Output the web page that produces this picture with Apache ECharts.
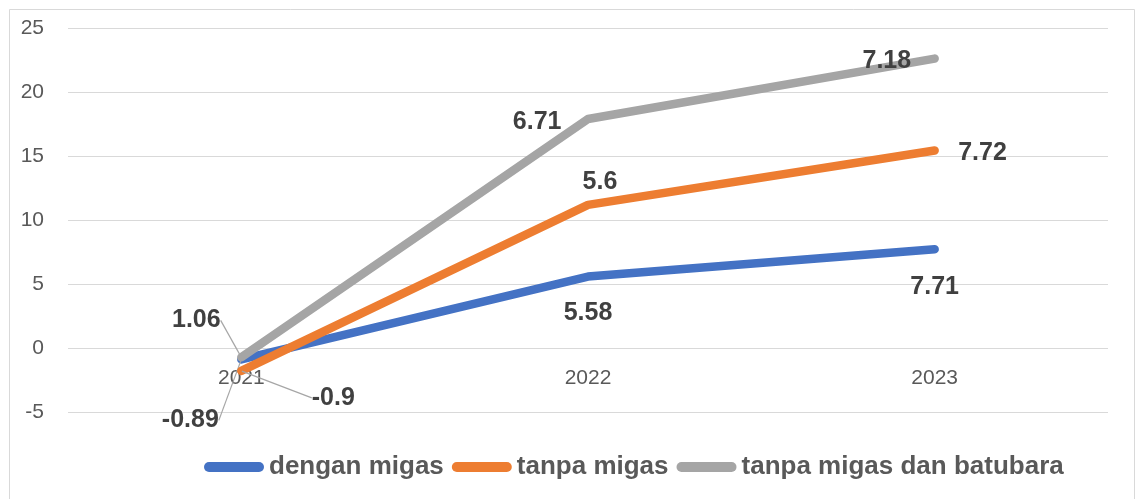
<!DOCTYPE html>
<html>
<head>
<meta charset="utf-8">
<script src="https://cdn.jsdelivr.net/npm/echarts@6/dist/echarts.min.js"></script>
<style>
html,body{margin:0;padding:0;background:#fff;}
#chart{width:1136px;height:499px;}
</style>
</head>
<body>
<div id="chart"></div>
<script>
// Data (stacked line chart, labels show each series' own value)
const years = ['2021', '2022', '2023'];
const denganMigas = [-0.89, 5.58, 7.71];
const tanpaMigas = [-0.9, 5.6, 7.72];
const tanpaMigasBatubara = [1.06, 6.71, 7.18];
const seriesNames = ['dengan migas', 'tanpa migas', 'tanpa migas dan batubara'];
const yTicks = { min: -5, max: 25, interval: 5 };

const colors = ['#4472C4', '#ED7D31', '#A5A5A5'];
const FONT = '"Liberation Sans", Arial, sans-serif';
const labelFont = { fontFamily: FONT, fontWeight: 'bold', fontSize: 25, color: '#404040' };

const GRID = { left: 68, right: 28, top: 28, bottom: 87 };
const plotH = 499 - GRID.top - GRID.bottom;
// place category axis at y = 0 (as in the reference)
const xAxisOffset = -plotH * (0 - yTicks.min) / (yTicks.max - yTicks.min);

// label placement style per series & point
const labelPos = [
  [{ position: 'inside', dx: -51, dy: 61 }, { position: 'bottom', distance: 21, dy: 3 }, { position: 'bottom', distance: 23, dy: 2 }],
  [{ position: 'inside', dx: 92, dy: 27 }, { position: 'top', distance: 12, dx: 12, dy: 2 }, { position: 'right', distance: 23, dy: 3 }],
  [{ position: 'inside', dx: -45, dy: -37 }, { position: 'left', distance: 26, dy: 3 }, { position: 'left', distance: 23, dy: 3 }]
];

function buildData(vals, si) {
  return vals.map((v, i) => {
    const p = labelPos[si][i];
    return {
      value: v,
      label: Object.assign({ show: true, position: p.position, distance: p.distance || 5 }, labelFont),
      labelLine: { show: i === 0, lineStyle: { color: '#A6A6A6', width: 1.2 } }
    };
  });
}

const allVals = [denganMigas, tanpaMigas, tanpaMigasBatubara];
const series = allVals.map((vals, si) => ({
  name: seriesNames[si],
  type: 'line',
  stack: 'total',
  stackStrategy: 'all',
  data: buildData(vals, si),
  symbol: 'circle',
  symbolSize: 1,
  showSymbol: true,
  itemStyle: { color: colors[si] },
  lineStyle: { width: 8.5, color: colors[si], cap: 'round', join: 'round' },
  label: Object.assign({ show: true, formatter: (p) => String(p.value) }, labelFont),
  labelLine: { show: false, lineStyle: { color: '#A6A6A6', width: 1.2 } },
  labelLayout: function (params) {
    const p = labelPos[si][params.dataIndex];
    if (!p) return {};
    return { dx: p.dx || 0, dy: p.dy || 0 };
  },
  emphasis: { disabled: true },
  z: 2 + si
}));

const chart = echarts.init(document.getElementById('chart'), null, { renderer: 'canvas' });
chart.setOption({
  animation: false,
  backgroundColor: '#ffffff',
  textStyle: { fontFamily: FONT },
  graphic: [{
    type: 'rect',
    shape: { x: 9.5, y: 9.5, width: 1125, height: 500 },
    style: { fill: 'none', stroke: '#D9D9D9', lineWidth: 1 },
    silent: true
  }],
  grid: Object.assign({ containLabel: false }, GRID),
  legend: {
    left: 199,
    top: 449,
    itemWidth: 60,
    itemHeight: 11,
    itemGap: 8,
    icon: 'path://M5,0 H55 A5,5 0 0 1 55,10 H5 A5,5 0 0 1 5,0 Z',
    textStyle: { fontFamily: FONT, fontWeight: 'bold', fontSize: 26, color: '#595959' },
    data: seriesNames.map((n) => ({ name: n }))
  },
  xAxis: {
    type: 'category',
    data: years,
    boundaryGap: true,
    offset: xAxisOffset,
    axisLine: { show: false, onZero: false },
    axisTick: { show: false },
    axisLabel: { fontFamily: FONT, fontSize: 21, color: '#595959', margin: 20 },
    splitLine: { show: false }
  },
  yAxis: {
    type: 'value',
    min: yTicks.min,
    max: yTicks.max,
    interval: yTicks.interval,
    axisLine: { show: false },
    axisTick: { show: false },
    axisLabel: { fontFamily: FONT, fontSize: 21, color: '#595959', margin: 24 },
    splitLine: { show: true, lineStyle: { color: '#D9D9D9', width: 1 } }
  },
  series: series
});
</script>
</body>
</html>
